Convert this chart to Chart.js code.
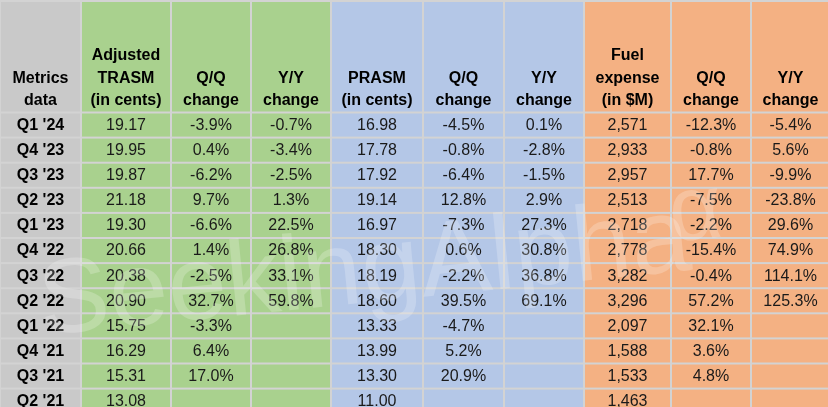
<!doctype html>
<html>
  <head>
    <script src="https://cdnjs.cloudflare.com/ajax/libs/Chart.js/4.4.1/chart.umd.js"></script>
    <style>
      body { margin: 0; background: #ffffff; }
    </style>
    <script>
      // table data, newest quarter first
      let quarters = ["Q1 '24", "Q4 '23", "Q3 '23", "Q2 '23", "Q1 '23", "Q4 '22", "Q3 '22", "Q2 '22", "Q1 '22", "Q4 '21", "Q3 '21", "Q2 '21"];
      let trasm   = [19.17, 19.95, 19.87, 21.18, 19.30, 20.66, 20.38, 20.90, 15.75, 16.29, 15.31, 13.08];
      let trasmQQ = [-3.9, 0.4, -6.2, 9.7, -6.6, 1.4, -2.5, 32.7, -3.3, 6.4, 17.0, null];
      let trasmYY = [-0.7, -3.4, -2.5, 1.3, 22.5, 26.8, 33.1, 59.8, null, null, null, null];
      let prasm   = [16.98, 17.78, 17.92, 19.14, 16.97, 18.30, 18.19, 18.60, 13.33, 13.99, 13.30, 11.00];
      let prasmQQ = [-4.5, -0.8, -6.4, 12.8, -7.3, 0.6, -2.2, 39.5, -4.7, 5.2, 20.9, null];
      let prasmYY = [0.1, -2.8, -1.5, 2.9, 27.3, 30.8, 36.8, 69.1, null, null, null, null];
      let fuel    = [2571, 2933, 2957, 2513, 2718, 2778, 3282, 3296, 2097, 1588, 1533, 1463];
      let fuelQQ  = [-12.3, -0.8, 17.7, -7.5, -2.2, -15.4, -0.4, 57.2, 32.1, 3.6, 4.8, null];
      let fuelYY  = [-5.4, 5.6, -9.9, -23.8, 29.6, 74.9, 114.1, 125.3, null, null, null, null];

      let headers = [
        ["Metrics", "data"],
        ["Adjusted", "TRASM", "(in cents)"], ["Q/Q", "change"], ["Y/Y", "change"],
        ["PRASM", "(in cents)"], ["Q/Q", "change"], ["Y/Y", "change"],
        ["Fuel", "expense", "(in $M)"], ["Q/Q", "change"], ["Y/Y", "change"]
      ];

      // layout (in scale units = pixels)
      let colEdges = [0, 81, 171, 251, 331, 423, 504, 584, 671, 751, 830];
      let colColors = ["#c9c9c9", "#a9d18e", "#a9d18e", "#a9d18e", "#b4c7e7", "#b4c7e7", "#b4c7e7", "#f4b183", "#f4b183", "#f4b183"];
      let headerBottom = 112.5;
      let rowHeight = 25.1;

      function fmtNum(v) { return v.toFixed(2); }
      function fmtPct(v) { return v === null ? "" : v.toFixed(1) + "%"; }
      function fmtInt(v) { return v.toLocaleString("en-US"); }

      function columnTexts() {
        return [
          quarters,
          trasm.map(fmtNum), trasmQQ.map(fmtPct), trasmYY.map(fmtPct),
          prasm.map(fmtNum), prasmQQ.map(fmtPct), prasmYY.map(fmtPct),
          fuel.map(fmtInt), fuelQQ.map(fmtPct), fuelYY.map(fmtPct)
        ];
      }

      let tablePlugin = {
        id: "tablePlugin",
        afterDraw(chart) {
          let ctx = chart.ctx;
          let xs = chart.scales.x, ys = chart.scales.y;
          let px = v => xs.getPixelForValue(v);
          let py = v => ys.getPixelForValue(v);
          let nRows = quarters.length;
          let rowTop = i => headerBottom + i * rowHeight;
          let cols = columnTexts();
          ctx.save();
          // grid background
          ctx.fillStyle = "#d3d3d3";
          ctx.fillRect(px(0), py(0), px(828) - px(0), py(407) - py(0));
          for (let c = 0; c < colEdges.length - 1; c++) {
            let x0 = px(colEdges[c]) + 1, x1 = px(colEdges[c + 1]) - 1;
            ctx.fillStyle = colColors[c];
            // header cell
            ctx.fillRect(x0, py(2), x1 - x0, py(headerBottom - 1) - py(2));
            for (let r = 0; r < nRows; r++) {
              let y0 = py(rowTop(r) + 1), y1 = py(rowTop(r + 1) - 1);
              ctx.fillRect(x0, y0, x1 - x0, y1 - y0);
            }
          }
          // header text, bottom aligned
          ctx.textAlign = "center";
          ctx.textBaseline = "middle";
          ctx.fillStyle = "#000000";
          ctx.font = "bold 16px 'Liberation Sans', Arial, sans-serif";
          for (let c = 0; c < headers.length; c++) {
            let cx = px((colEdges[c] + colEdges[c + 1]) / 2);
            let lines = headers[c];
            for (let k = 0; k < lines.length; k++) {
              let yy = 100.5 - (lines.length - 1 - k) * 22.3;
              ctx.fillText(lines[k], cx, py(yy));
            }
          }
          // body text
          for (let c = 0; c < cols.length; c++) {
            let cx = px((colEdges[c] + colEdges[c + 1]) / 2);
            ctx.font = (c === 0 ? "bold " : "") + "16px 'Liberation Sans', Arial, sans-serif";
            ctx.fillStyle = c === 0 ? "#000000" : "#1a1a1a";
            for (let r = 0; r < nRows; r++) {
              ctx.fillText(cols[c][r], cx, py(rowTop(r) + rowHeight / 2 + 0.5));
            }
          }
          // faint watermark
          ctx.globalAlpha = 0.22;
          ctx.fillStyle = "#ffffff";
          ctx.translate(px(42), py(335));
          ctx.rotate(-0.1);
          ctx.textAlign = "left";
          ctx.textBaseline = "alphabetic";
          ctx.font = "106px 'Liberation Sans', Arial, sans-serif";
          ctx.fillText("SeekingAlpha", 0, 0);
          ctx.font = "92px 'Liberation Sans', Arial, sans-serif";
          ctx.fillText("\u03b1", 636, -30);
          ctx.restore();
        }
      };

      function startPage() {
        new Chart(document.getElementById("c1"), {
          type: "scatter",
          data: { datasets: [{ data: [] }] },
          options: {
            responsive: false,
            animation: false,
            events: [],
            layout: { padding: 0 },
            plugins: { legend: { display: false }, tooltip: { enabled: false } },
            scales: {
              x: { type: "linear", min: 0, max: 828, display: false },
              y: { type: "linear", min: 0, max: 407, reverse: true, display: false }
            }
          },
          plugins: [tablePlugin]
        });
      }
    </script>
  </head>
  <body onload="startPage()">
    <canvas id="c1" width="828" height="407"></canvas>
  </body>
</html>
